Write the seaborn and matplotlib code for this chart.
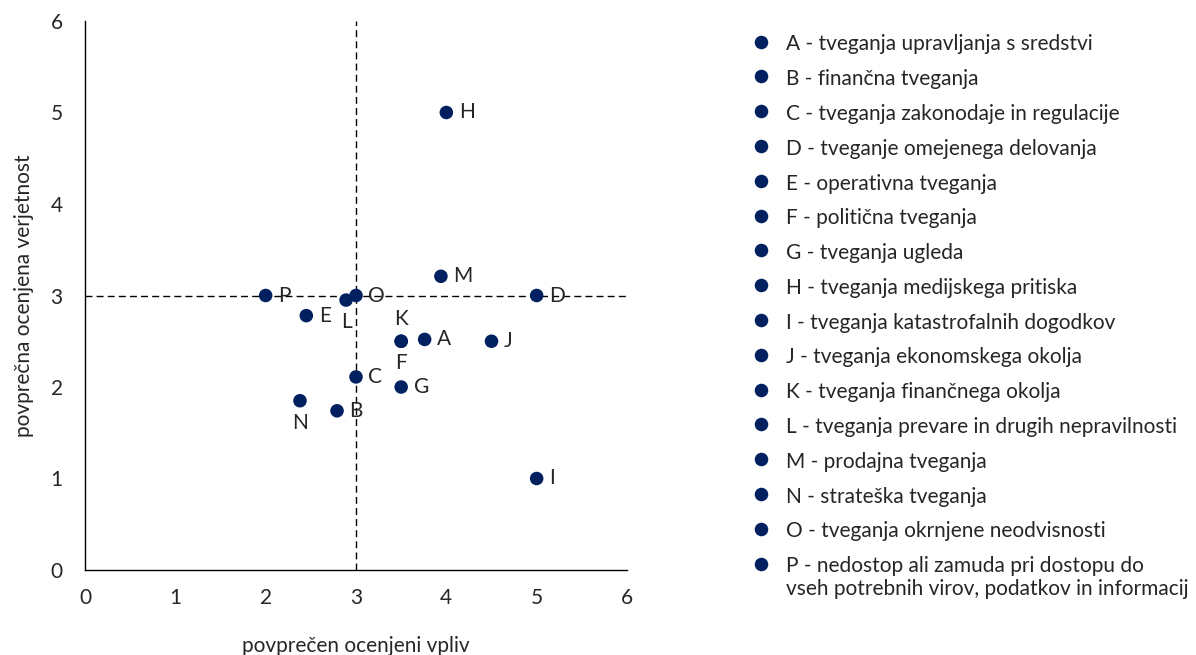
import seaborn as sns
import numpy as np
import matplotlib.pyplot as plt
import pandas as pd

# risk codes, estimated impact / probability
codes = ['A', 'B', 'C', 'D', 'E', 'F', 'G', 'H', 'I', 'J', 'K', 'L', 'M', 'N', 'O', 'P']
names = ['tveganja upravljanja s sredstvi',
         'finančna tveganja',
         'tveganja zakonodaje in regulacije',
         'tveganje omejenega delovanja',
         'operativna tveganja',
         'politična tveganja',
         'tveganja ugleda',
         'tveganja medijskega pritiska',
         'tveganja katastrofalnih dogodkov',
         'tveganja ekonomskega okolja',
         'tveganja finančnega okolja',
         'tveganja prevare in drugih nepravilnosti',
         'prodajna tveganja',
         'strateška tveganja',
         'tveganja okrnjene neodvisnosti',
         'nedostop ali zamuda pri dostopu do\nvseh potrebnih virov, podatkov in informacij']
impact = [3.76, 2.79, 3.0, 5.0, 2.45, 3.5, 3.5, 4.0, 5.0, 4.5, 3.5, 2.89, 3.94, 2.38, 3.0, 2.0]
probability = [2.52, 1.74, 2.11, 3.0, 2.78, 2.5, 2.0, 5.0, 1.0, 2.5, 2.5, 2.95, 3.21, 1.85, 3.0, 3.0]
# where the letter sits relative to its point
label_pos = ['right', 'right', 'right', 'right', 'right', 'below', 'right', 'right', 'right', 'right',
             'above', 'below', 'right', 'below', 'right', 'right']

navy = '#002060'
fs = 15

df = pd.DataFrame({'code': codes, 'impact': impact, 'probability': probability})
df['name'] = [c + ' - ' + n for c, n in zip(codes, names)]

sns.set_style('white')
plt.rcParams['font.family'] = ['Lato', 'DejaVu Sans']

fig = plt.figure(figsize=(11.96, 6.55), dpi=100)
ax = fig.add_axes([85 / 1196, 85 / 655, 542 / 1196, 549 / 655])

ax.axvline(3, color='black', lw=1, ls=(0, (5, 3)), zorder=1)
ax.axhline(3, color='black', lw=1, ls=(0, (5, 3)), zorder=1)

sns.scatterplot(data=df, x='impact', y='probability', hue='name', palette=[navy] * len(df),
                s=95, edgecolor='none', ax=ax, zorder=3)

offsets = {'right': ((9, 0), 'left', 'center'),
           'below': ((0, -16), 'center', 'center'),
           'above': ((0, 16), 'center', 'center')}
for c, x, y, p in zip(codes, impact, probability, label_pos):
    off, ha, va = offsets[p]
    ax.annotate(c, (x, y), xytext=off, textcoords='offset points', ha=ha, va=va, fontsize=fs)

ax.set_xlim(0, 6)
ax.set_ylim(0, 6)
ax.set_xticks(range(7))
ax.set_yticks(range(7))
ax.tick_params(axis='both', direction='out', length=5, width=1, color='black', labelsize=fs, pad=8)
ax.tick_params(axis='y', pad=11)
for s in ['top', 'right']:
    ax.spines[s].set_visible(False)
for s in ['left', 'bottom']:
    ax.spines[s].set_color('black')
    ax.spines[s].set_linewidth(1)

ax.set_xlabel('povprečen ocenjeni vpliv', fontsize=fs, labelpad=20)
ax.set_ylabel('povprečna ocenjena verjetnost', fontsize=fs, labelpad=12)

sns.move_legend(ax, 'upper left', bbox_to_anchor=(742 / 1196, 1 - 26 / 655),
                bbox_transform=fig.transFigure, title=None, frameon=False,
                fontsize=fs, labelspacing=0.71, handlelength=1.0, handletextpad=0.7,
                borderaxespad=0.0)
leg = ax.get_legend()
# marker next to the first line of the two-line entry
for col in leg._legend_handle_box.get_children():
    for row in col.get_children():
        row.align = 'top'

fig.savefig('out.png', dpi=100)
